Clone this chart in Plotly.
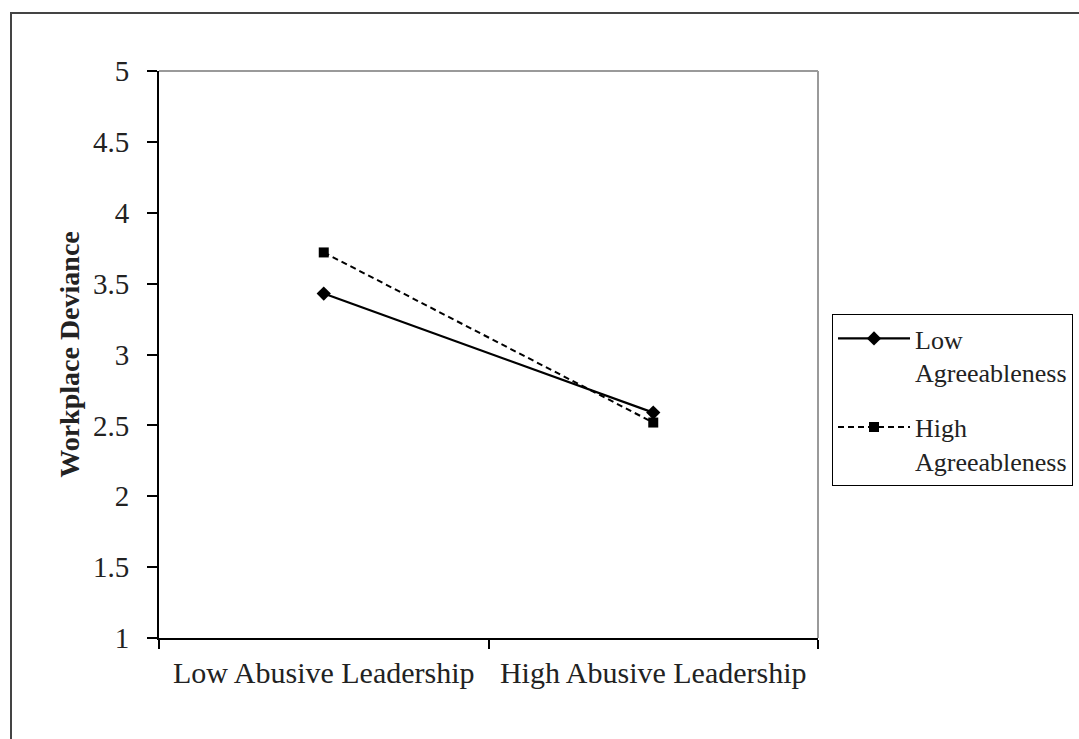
import plotly.graph_objects as go

categories = ["Low Abusive Leadership", "High Abusive Leadership"]
low_agree = [3.43, 2.59]
high_agree = [3.72, 2.52]
series_names = ["Low<br>Agreeableness", "High<br>Agreeableness"]
y_ticks = [1, 1.5, 2, 2.5, 3, 3.5, 4, 4.5, 5]

FONT = "Liberation Serif, Times New Roman, serif"

fig = go.Figure()
fig.add_trace(go.Scatter(
    x=categories, y=low_agree, name=series_names[0], mode="lines+markers",
    line=dict(color="black", width=2.2),
    marker=dict(symbol="diamond", size=11, color="black"),
    legendgroup="a",
))
fig.add_trace(go.Scatter(
    x=categories, y=high_agree, name=series_names[1], mode="lines+markers",
    line=dict(color="black", width=2, dash="6px,4px"),
    marker=dict(symbol="square", size=10, color="black"),
    legendgroup="b",
))

L, R, T, B = 159, 261, 71, 101
W, H = 1079, 739
pw, ph = W - L - R, H - T - B

fig.update_layout(
    width=W, height=H,
    margin=dict(l=L, r=R, t=T, b=B, autoexpand=False),
    paper_bgcolor="white", plot_bgcolor="white",
    font=dict(family=FONT, color="black"),
    showlegend=True,
    legend=dict(
        x=(832 - L) / pw, y=(H - B - 314) / ph, xanchor="left", yanchor="top",
        bordercolor="black", borderwidth=1, bgcolor="white",
        font=dict(family=FONT, size=26, color="#222"),
        itemwidth=72, valign="top", tracegroupgap=18,
        traceorder="grouped",
    ),
    xaxis=dict(
        type="category", range=[-0.5, 1.5], tickson="boundaries",
        ticks="outside", ticklen=9, tickcolor="black", tickwidth=1.5,
        showline=True, linecolor="black", linewidth=2,
        showgrid=False, zeroline=False,
        tickfont=dict(family=FONT, size=30, color="#222"),
        ticklabelstandoff=7,
    ),
    yaxis=dict(
        range=[1, 5], tickvals=y_ticks, ticktext=[f"{v:g}" for v in y_ticks],
        ticks="outside", ticklen=10, tickcolor="black", tickwidth=1.5,
        showline=True, linecolor="black", linewidth=2,
        showgrid=False, zeroline=False,
        tickfont=dict(family=FONT, size=29, color="#222"),
        ticklabelstandoff=12,
        title=dict(text="<b>Workplace Deviance</b>", font=dict(family=FONT, size=28, color="#222"), standoff=5),
    ),
)

# grey top/right plot-area border
fig.add_shape(type="line", xref="paper", yref="paper", x0=0, x1=1, y0=1, y1=1,
              line=dict(color="#9a9a9a", width=2))
fig.add_shape(type="line", xref="paper", yref="paper", x0=1, x1=1, y0=0, y1=1,
              line=dict(color="#9a9a9a", width=2))
# outer chart border
fig.add_shape(type="rect", xref="paper", yref="paper",
              x0=(11 - L) / pw, x1=(1090 - L) / pw,
              y0=-(750 - (H - B)) / ph, y1=1 + (T - 13) / ph,
              line=dict(color="#444", width=2), layer="below")

fig.write_html("out.html", config={"displayModeBar": False},
               post_script="document.body.style.margin='0';")
